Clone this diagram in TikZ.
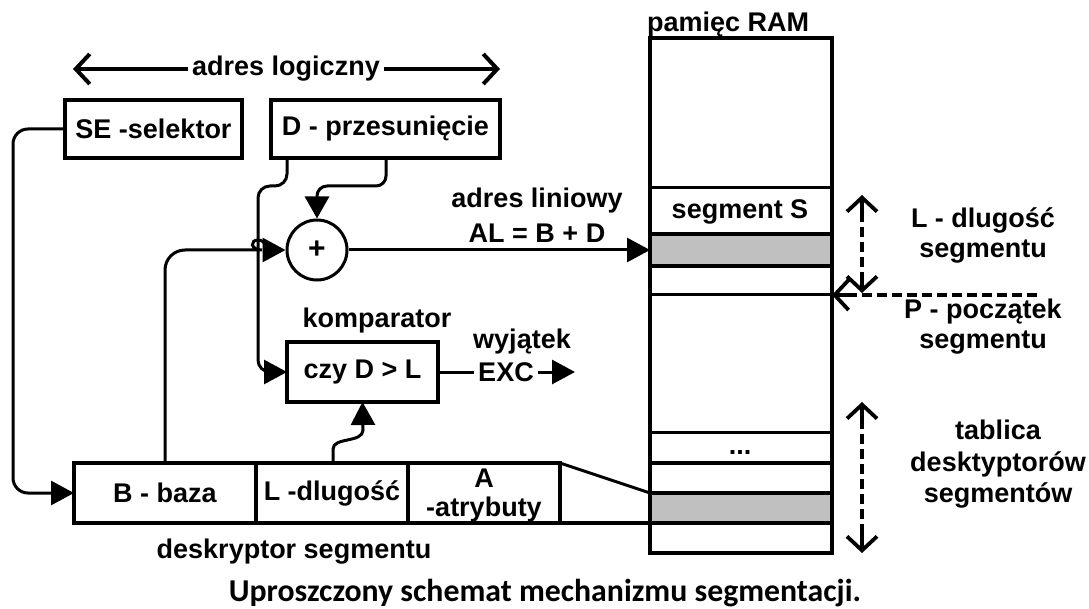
\documentclass[tikz,border=0pt]{standalone}
\usepackage{fontspec}
\setmainfont{Liberation Sans}
\newfontfamily\capfont{Carlito}
\usetikzlibrary{arrows.meta}
\definecolor{bandgray}{HTML}{C0C0C0}
\tikzset{
  lbl/.style={font=\fontsize{27}{31}\selectfont\bfseries, inner sep=0pt},
  box/.style={draw, line width=4pt, lbl, minimum height=58pt, outer sep=0pt},
  conn/.style={line width=3pt},
  tri/.style={-{Triangle[length=23pt,width=24pt]}},
  barbtip/.style={-{Straight Barb[length=14pt,width=30pt]}},
  dashline/.style={line width=3.5pt, dash pattern=on 10pt off 5pt},
  tipline/.style={line width=3.8pt},
}
\begin{document}
\begin{tikzpicture}[x=1pt,y=-1pt]
\useasboundingbox (0,0) rectangle (1089,609);

% ---------- RAM ----------
\fill[bandgray] (650,234) rectangle (832,266);
\fill[bandgray] (650,493) rectangle (832,523);
\draw[line width=3pt] (650,188) -- (832,188);
\draw[line width=4pt] (650,234) -- (832,234);
\draw[line width=4pt] (650,266) -- (832,266);
\draw[line width=3pt] (650,295) -- (832,295);
\draw[line width=3pt] (650,432) -- (832,432);
\draw[line width=3.5pt] (650,463) -- (832,463);
\draw[line width=4pt] (650,493) -- (832,493);
\draw[line width=4pt] (650,523) -- (832,523);
\draw[line width=4pt] (650,38) rectangle (832,553);
\coordinate (ramAL) at (650,250);
\coordinate (ramD) at (650,493);
\coordinate (ramDb) at (650,523);
\coordinate (ramP) at (832,295);

\node[lbl, anchor=base west] (ramlbl) at (647,32) {pamięc RAM};
\node[lbl] (segS) at (740,212) {segment S};
\node[lbl] (dots) at (740,452) {...};

% ---------- logical address ----------
\coordinate (alL) at (73,69);
\coordinate (alR) at (500,69);
\node[lbl, fill=white, inner xsep=4pt, inner ysep=2pt] (al) at (286,69) {adres logiczny};
\draw[line width=4pt, barbtip] (al.west) -- (alL);
\draw[line width=4pt, barbtip] (al.east) -- (alR);

\node[box, minimum width=177pt] (se) at (153.5,129) {SE -selektor};
\node[box, minimum width=229pt] (d) at (385.5,129) {D - przesunięcie};

% ---------- adder ----------
\node[draw, circle, line width=3pt, minimum size=60pt, font=\fontsize{30}{30}\selectfont\bfseries, inner sep=0pt] (plus) at (317,250) {+};

% ---------- comparator ----------
\node[box, minimum width=151pt, minimum height=60pt] (comp) at (362.5,372) {czy D > L};
\node[lbl] (komp) at (377,321) {komparator};
\node[lbl] (wyj) at (522,342) {wyjątek};
\node[lbl, inner sep=4pt] (exc) at (506,372) {EXC};
\coordinate (excEnd) at (575,372);

% ---------- descriptor ----------
\node[box, minimum width=182pt, minimum height=60pt] (cb) at (165,493) {B - baza};
\node[box, minimum width=152pt, minimum height=60pt] (cl) at (332,493) {L -dlugość};
\node[box, minimum width=152pt, minimum height=60pt] (ca) at (484,493) {};
\node[lbl] (caA) at (484,478) {A};
\node[lbl] (caB) at (484,510) {-atrybuty};
\node[lbl] (desk) at (294,552) {deskryptor segmentu};

% ---------- labels ----------
\node[lbl] (adl1) at (537,201) {adres liniowy};
\node[lbl] (adl2) at (537,233) {AL = B + D};
\node[lbl] (len1) at (983,220) {L - dlugość};
\node[lbl] (len2) at (983,252) {segmentu};
\node[lbl] (pp1) at (983,312) {P - początek};
\node[lbl] (pp2) at (983,343) {segmentu};
\node[lbl] (tb1) at (998,430) {tablica};
\node[lbl] (tb2) at (998,464) {desktyptorów};
\node[lbl] (tb3) at (998,495) {segmentów};

% ---------- dashed dimension arrows ----------
\coordinate (l1t) at (862,195);
\coordinate (l1b) at (862,293);
\coordinate (pEnd) at (1037,295);
\coordinate (t1t) at (862,402);
\coordinate (t1b) at (862,553);
\draw[dashline] (862,197) -- (862,291);
\draw[dashline] (pEnd) -- (834,295);
\draw[dashline] (862,404) -- (862,551);
% solid arrow tips
\draw[tipline, barbtip] (862,215) -- (l1t);
\draw[tipline, barbtip] (862,273) -- (l1b);
\draw[tipline, barbtip] (852,295) -- (ramP);
\draw[tipline, barbtip] (862,422) -- (t1t);
\draw[tipline, barbtip] (862,533) -- (t1b);

% ---------- connectors ----------
\draw[conn, tri, rounded corners=15pt] (se.west) -- (13,129) -- (13,493) -- (cb.west);
\draw[conn, tri, rounded corners=12pt] ([xshift=16pt]d.south west) -- (287,186) -- (258,186) -- (258,372) -- (comp.west);
\draw[conn, -{Triangle[length=22pt,width=24pt]}, rounded corners=10pt] ([xshift=-114pt]d.south east) -- (386,186) -- (317,186) -- (plus.north);
\draw[conn, tri] (cb.north) [rounded corners=20pt] -- (165,250) -- (242,250) [sharp corners]
  .. controls (250,250) and (250,240) .. (258,240)
  .. controls (266,240) and (266,250) .. (274,250) -- (plus.west);
\draw[conn, tri] ([xshift=1pt]cl.north) -- (333,449) .. controls (333,437) and (363,443) .. (363,430) -- (comp.south);
\draw[conn, tri] (plus.east) -- (ramAL);
\draw[conn] (comp.east) -- (exc.west);
\draw[conn, tri] (exc.east) -- (excEnd);
\draw[line width=3pt] (ca.north east) -- (ramD);
\draw[line width=4pt] (ca.south east) -- (ramDb);

% ---------- caption ----------
\node[font=\capfont\bfseries\fontsize{31.8}{36}\selectfont, inner sep=0pt, anchor=base] (cap) at (545,601) {Uproszczony schemat mechanizmu segmentacji.};
\end{tikzpicture}
\end{document}
